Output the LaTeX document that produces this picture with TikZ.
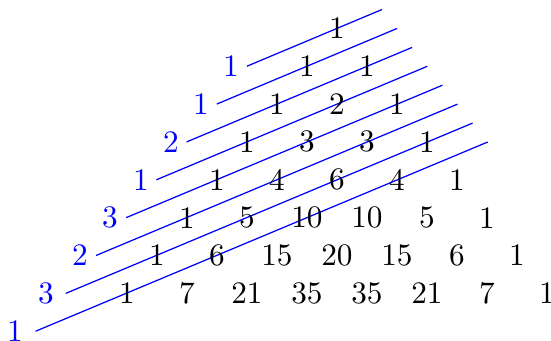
\documentclass[tikz,border=0pt]{standalone}
\begin{document}
\begin{tikzpicture}[x=0.32pt,y=-0.32pt,
  num/.style={inner sep=0pt},
  fib/.style={inner sep=0pt,text=blue},
  diag/.style={blue,line width=0.4pt}]
\useasboundingbox (0,0) rectangle (551,340);
% diagonals
\foreach \i in {0,...,7}{
  \coordinate (s-\i) at ({247-30.2*\i},{66.2+37.86*\i});
  \coordinate (e-\i) at ({382+15.1*\i},{9.5+18.93*\i});
  \draw[diag] (s-\i) -- (e-\i);
}
% Pascal triangle
\foreach \row [count=\n from 0] in {{1},{1,1},{1,2,1},{1,3,3,1},{1,4,6,4,1},{1,5,10,10,5,1},{1,6,15,20,15,6,1},{1,7,21,35,35,21,7,1}}{
  \foreach \v [count=\k from 0] in \row {
    \node[num] (p-\n-\k) at ({337+(\k-\n/2)*60},{28.3+37.86*\n}) {\v};
  }
}
% blue labels
\foreach \lab/\x [count=\i from 0] in {1/231,1/201,2/171,1/141,3/110,2/80,3/46,1/15}{
  \node[fib] (f-\i) at (\x,{66.2+37.86*\i}) {\lab};
}
\end{tikzpicture}
\end{document}
